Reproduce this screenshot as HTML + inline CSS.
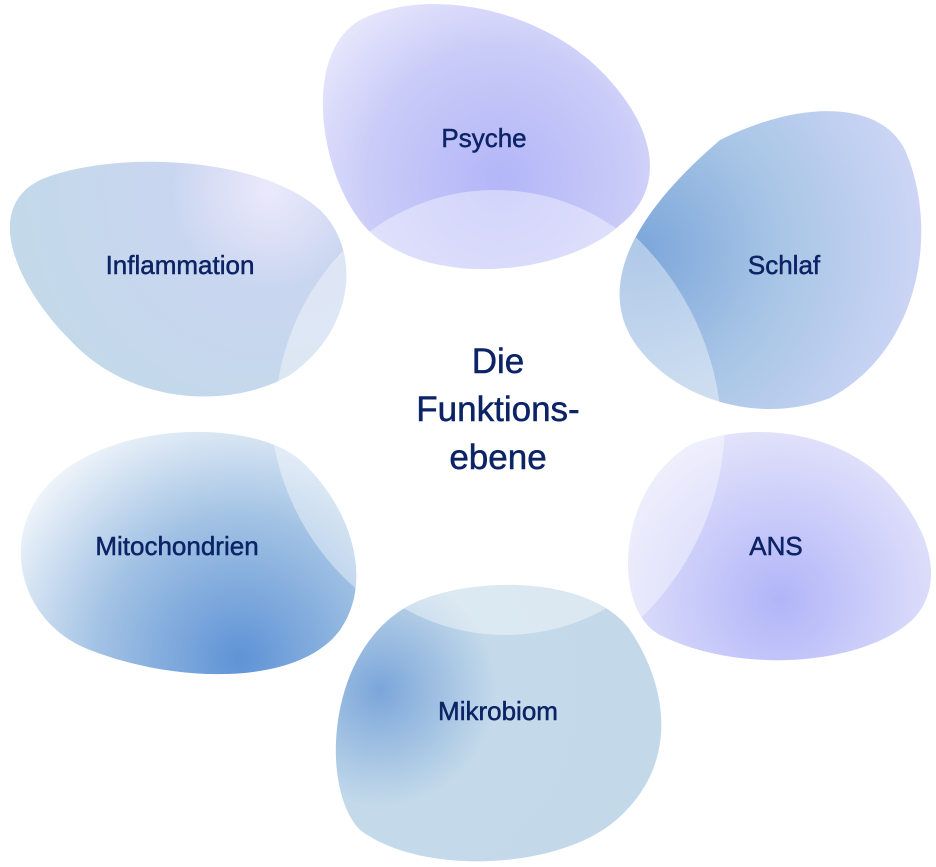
<!DOCTYPE html>
<html><head><meta charset="utf-8"><style>
html,body{margin:0;padding:0;background:#fff;width:936px;height:867px;overflow:hidden}
svg{display:block}
text{font-family:"Liberation Sans",sans-serif;fill:#0c2466;stroke:#0c2466;stroke-width:0.5;text-anchor:middle}
</style></head><body>
<svg width="936" height="867" viewBox="0 0 936 867">
<defs>
<radialGradient id="gP" cx="500" cy="180" r="260" gradientUnits="userSpaceOnUse">
<stop offset="0" stop-color="#b3b6f8"/><stop offset="0.5" stop-color="#c9cbf8"/><stop offset="1" stop-color="#f6f5fd"/></radialGradient>
<radialGradient id="gS" cx="640" cy="250" r="320" gradientUnits="userSpaceOnUse">
<stop offset="0" stop-color="#7ca6da"/><stop offset="0.45" stop-color="#a9c6e6"/><stop offset="1" stop-color="#d6d9fa"/></radialGradient>
<radialGradient id="gA" cx="780" cy="600" r="230" gradientUnits="userSpaceOnUse">
<stop offset="0" stop-color="#b1b5f8"/><stop offset="0.6" stop-color="#d8d9fa"/><stop offset="1" stop-color="#f3f2fc"/></radialGradient>
<radialGradient id="gM" cx="380" cy="690" r="260" gradientUnits="userSpaceOnUse">
<stop offset="0" stop-color="#7ba6da"/><stop offset="0.45" stop-color="#c4daea"/><stop offset="1" stop-color="#c3d9ea"/></radialGradient>
<radialGradient id="gC" cx="240" cy="660" r="260" gradientUnits="userSpaceOnUse">
<stop offset="0" stop-color="#5e93d6"/><stop offset="0.55" stop-color="#a2c2e4"/><stop offset="1" stop-color="#eef4fa"/></radialGradient>
<radialGradient id="gI" cx="270" cy="190" r="250" gradientUnits="userSpaceOnUse">
<stop offset="0" stop-color="#ece9fc"/><stop offset="0.4" stop-color="#c9d6f0"/><stop offset="1" stop-color="#c3d9ea"/></radialGradient>
<clipPath id="cP"><path id="pP" d="M 360,20 C 430,-15 540,10 600,70 C 660,130 665,190 620,225 C 565,275 430,290 368,230 C 320,180 300,55 360,20 Z"/></clipPath>
<clipPath id="cS"><path id="pS" d="M 720,140 C 800,100 880,100 905,150 C 940,230 920,350 830,398 C 760,425 680,400 640,350 C 600,300 615,230 720,140 Z"/></clipPath>
<clipPath id="cA"><path id="pA" d="M 690,445 C 750,420 840,430 890,485 C 935,535 945,590 910,622 C 860,665 740,675 660,635 C 612,610 615,490 690,445 Z"/></clipPath>
<clipPath id="cM"><path id="pM" d="M 410,605 C 470,575 590,575 630,630 C 670,690 680,770 610,825 C 550,870 420,875 360,830 C 320,790 325,650 410,605 Z"/></clipPath>
<clipPath id="cC"><path id="pC" d="M 80,460 C 150,420 260,425 300,460 C 350,505 375,580 340,630 C 300,685 180,685 90,650 C 10,620 -10,510 80,460 Z"/></clipPath>
<clipPath id="cI"><path id="pI" d="M 40,180 C 110,150 260,155 320,210 C 362,250 355,330 290,375 C 230,410 130,405 70,340 C 20,290 -20,210 40,180 Z"/></clipPath>
</defs>
<use href="#pP" fill="url(#gP)"/>
<use href="#pS" fill="url(#gS)"/>
<use href="#pA" fill="url(#gA)"/>
<use href="#pM" fill="url(#gM)"/>
<use href="#pC" fill="url(#gC)"/>
<use href="#pI" fill="url(#gI)"/>
<g fill="#fff" opacity="0.4">
<circle cx="495" cy="400" r="210" clip-path="url(#cP)"/>
<circle cx="440" cy="440" r="282" clip-path="url(#cS)"/>
<circle cx="450" cy="420" r="275" clip-path="url(#cA)"/>
<circle cx="505" cy="430" r="205" clip-path="url(#cM)"/>
<circle cx="520" cy="400" r="250" clip-path="url(#cC)"/>
<circle cx="520" cy="420" r="245" clip-path="url(#cI)"/>
</g>
<text x="484" y="147" font-size="26">Psyche</text>
<text x="784" y="274" font-size="26">Schlaf</text>
<text x="776" y="555" font-size="26">ANS</text>
<text x="498" y="720" font-size="26">Mikrobiom</text>
<text x="177" y="555" font-size="26">Mitochondrien</text>
<text x="180" y="274" font-size="26">Inflammation</text>
<text x="498" y="373" font-size="35">Die</text>
<text x="498" y="421" font-size="35">Funktions-</text>
<text x="498" y="469" font-size="35">ebene</text>
</svg>
</body></html>
